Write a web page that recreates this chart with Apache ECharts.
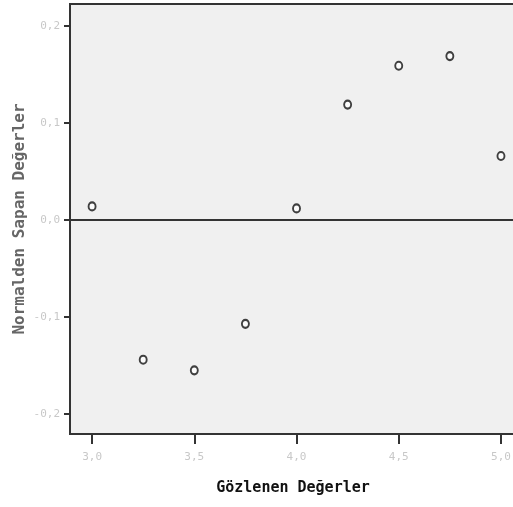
<!DOCTYPE html>
<html>
<head>
<meta charset="utf-8">
<script src="https://cdn.jsdelivr.net/npm/echarts@6/dist/echarts.min.js"></script>
<style>
html,body{margin:0;padding:0;background:#fff;overflow:hidden;}
#chart{width:513px;height:507px;}
</style>
</head>
<body>
<div id="chart"></div>
<script>
var xValues=[3.0,3.25,3.5,3.75,4.0,4.25,4.5,4.75,5.0];
var yValues=[0.014,-0.144,-0.155,-0.107,0.012,0.119,0.159,0.169,0.066];
var xTicks=[3.0,3.5,4.0,4.5,5.0];
var yTicks=[-0.2,-0.1,0.0,0.1,0.2];

function fmt(v){
    return v.toFixed(1).replace('.',',');
}

var myChart=echarts.init(document.getElementById('chart'));
var points=[];
for(var i=0;i<xValues.length;i++){
    points.push([xValues[i],yValues[i]]);
}
var option={
    animation:false,
    grid:{
        left:70,
        top:4,
        width:460,
        height:430,
        containLabel:false,
        outerBoundsMode:'none',
        show:true,
        backgroundColor:'#f0f0f0',
        borderColor:'#333',
        borderWidth:2
    },
    xAxis:{
        type:'value',
        min:2.892,
        max:5.142,
        name:'Gözlenen Değerler',
        nameLocation:'middle',
        nameGap:47,
        nameMoveOverlap:false,
        nameTextStyle:{color:'#111',fontFamily:'DejaVu Sans Mono',fontSize:15,fontWeight:'bold',
            padding:[0,14,0,0]},
        splitLine:{show:false},
        axisLine:{onZero:false,lineStyle:{color:'#333',width:2}},
        axisTick:{show:true,length:10,lineStyle:{color:'#333',width:2},customValues:xTicks},
        axisLabel:{color:'#c8c8c8',fontFamily:'DejaVu Sans Mono',fontSize:11,margin:18,
            customValues:xTicks,formatter:function(v){return fmt(v);}}
    },
    yAxis:{
        type:'value',
        min:-0.2206,
        max:0.2227,
        name:'Normalden Sapan Değerler',
        nameLocation:'middle',
        nameGap:42,
        nameMoveOverlap:false,
        nameTextStyle:{color:'#666',fontFamily:'DejaVu Sans Mono',fontSize:16,fontWeight:'bold'},
        splitLine:{show:false},
        axisLine:{lineStyle:{color:'#333',width:2}},
        axisTick:{show:true,length:6,lineStyle:{color:'#333',width:2},customValues:yTicks},
        axisLabel:{color:'#c8c8c8',fontFamily:'DejaVu Sans Mono',fontSize:11,margin:10,
            customValues:yTicks,formatter:function(v){return fmt(v);}}
    },
    series:[{
        type:'scatter',
        data:points,
        symbol:'emptyCircle',
        symbolSize:[7,8],
        itemStyle:{color:'#111',borderWidth:2},
        markLine:{
            silent:true,
            symbol:'none',
            label:{show:false},
            lineStyle:{color:'#333',width:2,type:'solid'},
            data:[{yAxis:0}]
        }
    }]
};
myChart.setOption(option,true);
</script>
</body>
</html>
